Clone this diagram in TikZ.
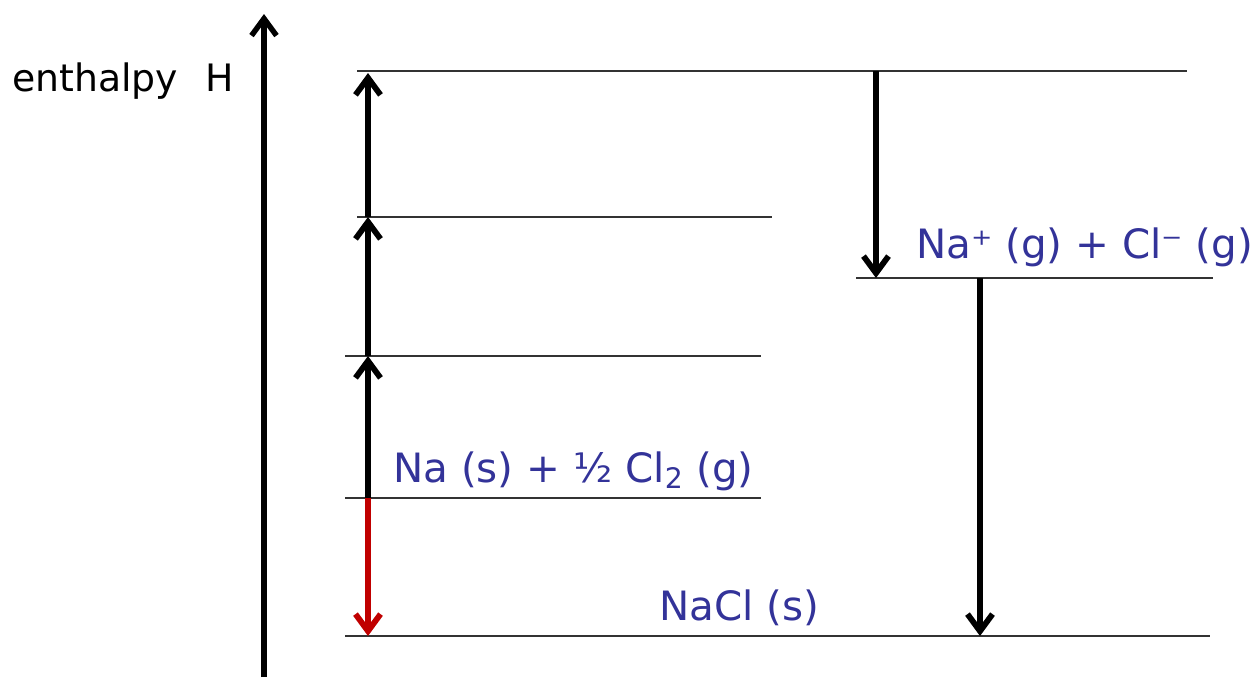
\documentclass[tikz,border=0pt]{standalone}
\usepackage{fontspec}
\setmainfont{DejaVu Sans}
\usetikzlibrary{positioning, arrows.meta}
\definecolor{speciesblue}{RGB}{51,51,153}
\definecolor{formred}{RGB}{192,0,0}
\tikzset{>={Straight Barb[length=0.34cm, width=0.5cm]}}

\begin{document}
\begin{tikzpicture}[x=0.02cm, y=-0.02cm,
    level/.style={line width=0.8pt, draw=black!80},
    jump/.style={line width=3.3pt, ->},
    species/.style={text=speciesblue, inner sep=0pt, font=\fontsize{23}{26}\selectfont}]
    \useasboundingbox (0,0) rectangle (1255,677);

    % enthalpy axis
    \coordinate (H0) at (264,677);
    \coordinate (H1) at (264,14);
    \draw[line width=3.1pt, ->] (H0) -- (H1);
    \node[anchor=base west, inner sep=0pt, font=\fontsize{21.5}{25}\selectfont] (hlab) at (12,91) {enthalpy\hspace{0.55cm}H};

    % levels
    \coordinate (TopA) at (357,71);   \coordinate (TopB) at (1187,71);
    \coordinate (AtA)  at (357,217);  \coordinate (AtB)  at (772,217);
    \coordinate (GasA) at (345,356);  \coordinate (GasB) at (761,356);
    \coordinate (ElA)  at (345,498);  \coordinate (ElB)  at (761,498);
    \coordinate (IonA) at (856,278);  \coordinate (IonB) at (1213,278);
    \coordinate (SolA) at (345,636);  \coordinate (SolB) at (1210,636);
    \draw[level]
    (TopA) -- (TopB)
    (AtA) -- (AtB)
    (GasA) -- (GasB)
    (ElA) -- (ElB)
    (IonA) -- (IonB)
    (SolA) -- (SolB)
    ;

    % labels
    \node[species, anchor=base west] (el) at (393,482) {Na (s) + ½ Cl\textsubscript{2} (g)};
    \node[species, anchor=base west] (ion) at (916,258) {Na⁺ (g) + Cl⁻ (g)};
    \node[species, anchor=base west] (sol) at (659,620) {NaCl (s)};

    % steps
    \coordinate (s0) at (368,498);
    \coordinate (s1) at (368,356);
    \coordinate (s2) at (368,217);
    \coordinate (s3) at (368,73);
    \coordinate (s4) at (368,636);
    \coordinate (r0) at (876,71);
    \coordinate (r1) at (876,278);
    \coordinate (r2) at (980,278);
    \coordinate (r3) at (980,636);
    \foreach \a/\b in {s0/s1, s1/s2, s2/s3, r0/r1, r2/r3}
        \draw[jump] (\a) -- (\b);
    \draw[jump, formred] (s0) -- (s4);
\end{tikzpicture}
\end{document}
